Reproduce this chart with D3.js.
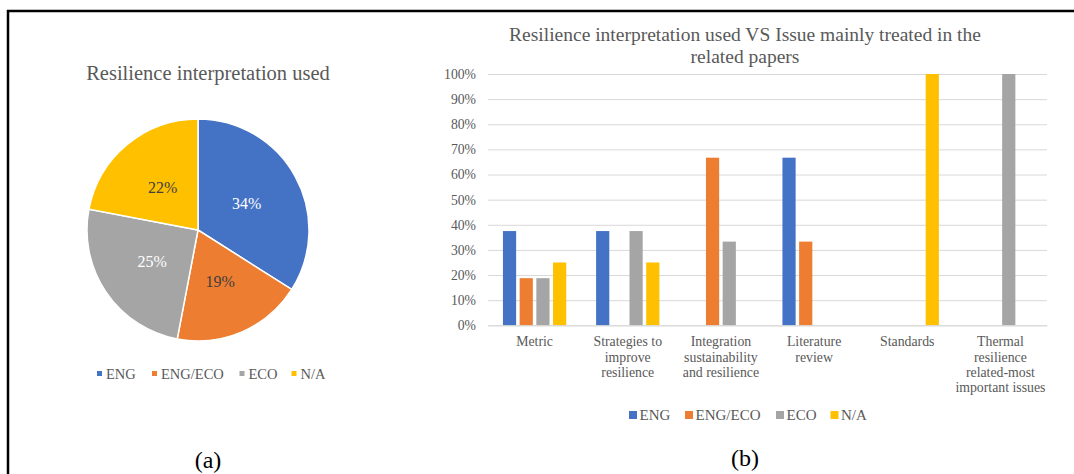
<!DOCTYPE html>
<html>
<head>
<meta charset="utf-8">
<script src="https://cdn.jsdelivr.net/npm/d3@7"></script>
<style>
  html, body { margin: 0; padding: 0; background: #fff; }
  svg { display: block; }
  svg text { font-family: "Liberation Serif", "Times New Roman", serif; }
</style>
</head>
<body>
<svg id="fig" width="1074" height="474"></svg>
<script>
// ---- data ----
const seriesNames = ["ENG", "ENG/ECO", "ECO", "N/A"];
const seriesColors = ["#4472C4", "#ED7D31", "#A5A5A5", "#FFC000"];

// (a) share of each resilience interpretation, percent
const pieValues = [34, 19, 25, 22];

// (b) issue categories (line breaks as drawn) and per-series percentages
const issueLabels = [
  ["Metric"],
  ["Strategies to", "improve", "resilience"],
  ["Integration", "sustainability", "and resilience"],
  ["Literature", "review"],
  ["Standards"],
  ["Thermal", "resilience", "related-most", "important issues"]
];
const engValues    = [37.5, 37.5, 0, 66.7, 0, 0];
const engEcoValues = [18.75, 0, 66.7, 33.3, 0, 0];
const ecoValues    = [18.75, 37.5, 33.3, 0, 0, 100];
const naValues     = [25, 25, 0, 0, 100, 0];
const yTicks = [0, 10, 20, 30, 40, 50, 60, 70, 80, 90, 100];

const textGray = "#595959";
const serif = '"Liberation Serif", "Times New Roman", serif';
const svg = d3.select("#fig");

// frame lines (top and left)
svg.append("line").attr("x1", 7).attr("x2", 1074).attr("y1", 11).attr("y2", 11)
  .attr("stroke", "#000").attr("stroke-width", 2.5);
svg.append("line").attr("x1", 8).attr("x2", 8).attr("y1", 10).attr("y2", 474)
  .attr("stroke", "#000").attr("stroke-width", 2.5);

// ---------- (a) pie ----------
const pieG = svg.append("g");
const cx = 198, cy = 230, radius = 111;

pieG.append("text").attr("x", 208).attr("y", 80).attr("text-anchor", "middle")
  .attr("font-size", 20.5).attr("fill", textGray).text("Resilience interpretation used");

const pie = d3.pie().sort(null).value(d => d);
const arcs = pie(pieValues);
const arc = d3.arc().innerRadius(0).outerRadius(radius);
const labelArc = d3.arc().innerRadius(radius * 0.5).outerRadius(radius * 0.5);

const slices = pieG.append("g").attr("transform", `translate(${cx},${cy})`);
slices.selectAll("path").data(arcs).join("path")
  .attr("d", arc)
  .attr("fill", (d, i) => seriesColors[i])
  .attr("stroke", "#fff").attr("stroke-width", 1.5);

const pieLabelColors = ["#fff", "#404040", "#fff", "#404040"];
slices.selectAll("text").data(arcs).join("text")
  .attr("transform", d => `translate(${labelArc.centroid(d)})`)
  .attr("text-anchor", "middle").attr("dy", "0.35em")
  .attr("font-size", 16)
  .attr("fill", (d, i) => pieLabelColors[i])
  .text(d => d3.format(".0f")(d.data) + "%");

// pie legend
const pieLegendX = [97, 152, 239.5, 291.5];
const pieLegend = pieG.append("g");
seriesNames.forEach((name, i) => {
  pieLegend.append("rect").attr("x", pieLegendX[i]).attr("y", 371).attr("width", 5).attr("height", 5)
    .attr("fill", seriesColors[i]);
  pieLegend.append("text").attr("x", pieLegendX[i] + 9).attr("y", 379)
    .attr("font-size", 14.5).attr("fill", textGray).text(name);
});

pieG.append("text").attr("x", 208).attr("y", 468).attr("text-anchor", "middle")
  .attr("font-size", 24).attr("fill", "#000").text("(a)");

// ---------- (b) grouped bars ----------
const barG = svg.append("g");
const plotLeft = 488, plotRight = 1047, plotTop = 74, plotBottom = 325.3;

const titleLines = ["Resilience interpretation used VS Issue mainly treated in the", "related papers"];
barG.append("text").attr("text-anchor", "middle").attr("font-size", 19.5).attr("fill", textGray)
  .selectAll("tspan").data(titleLines).join("tspan")
  .attr("x", 745).attr("y", (d, i) => 41 + i * 22).text(d => d);

const y = d3.scaleLinear().domain([0, 100]).range([plotBottom, plotTop]);
const x0 = d3.scaleBand().domain(d3.range(issueLabels.length)).range([plotLeft, plotRight]).padding(0);
const x1 = d3.scaleBand().domain(seriesNames).range([0, x0.bandwidth()])
  .paddingInner(0.21).paddingOuter(0.895);

// gridlines + y labels via axis
const yAxis = d3.axisLeft(y).tickValues(yTicks).tickSize(-(plotRight - plotLeft))
  .tickFormat(d => d + "%").tickPadding(12);
const gy = barG.append("g").attr("transform", `translate(${plotLeft},0)`).call(yAxis);
gy.attr("font-family", null);
gy.select(".domain").remove();
gy.selectAll(".tick line").attr("stroke", "#d9d9d9").attr("stroke-width", 1);
gy.selectAll(".tick text").attr("font-size", 13.7).attr("fill", textGray);

// bars
const seriesData = [engValues, engEcoValues, ecoValues, naValues];
const groups = barG.append("g").selectAll("g").data(issueLabels.map((_, i) => i)).join("g")
  .attr("transform", i => `translate(${x0(i)},0)`);
groups.selectAll("rect")
  .data(i => seriesNames.map((s, k) => ({ key: s, k, value: seriesData[k][i] })).filter(d => d.value > 0))
  .join("rect")
  .attr("x", d => x1(d.key))
  .attr("width", x1.bandwidth())
  .attr("y", d => y(d.value))
  .attr("height", d => y(0) - y(d.value))
  .attr("fill", d => seriesColors[d.k]);

// category labels
const xAxis = d3.axisBottom(x0).tickSize(0).tickFormat("");
const gx = barG.append("g").attr("transform", `translate(0,${plotBottom})`).call(xAxis);
gx.attr("font-family", null);
gx.select(".domain").attr("stroke", "#d9d9d9");
gx.selectAll(".tick").each(function (i) {
  const t = d3.select(this).append("text")
    .attr("text-anchor", "middle").attr("font-size", 13.8).attr("fill", textGray);
  issueLabels[i].forEach((line, j) => {
    t.append("tspan").attr("x", 0).attr("y", 21 + j * 15.4).text(line);
  });
});

// bar legend
const barLegendX = [629, 685, 776, 830.5];
const barLegend = barG.append("g");
seriesNames.forEach((name, i) => {
  barLegend.append("rect").attr("x", barLegendX[i]).attr("y", 411).attr("width", 8).attr("height", 8)
    .attr("fill", seriesColors[i]);
  barLegend.append("text").attr("x", barLegendX[i] + 10.5).attr("y", 420)
    .attr("font-size", 15).attr("fill", textGray).text(name);
});

barG.append("text").attr("x", 745).attr("y", 466).attr("text-anchor", "middle")
  .attr("font-size", 24).attr("fill", "#000").text("(b)");

// every label in the figure uses the serif face
svg.selectAll("text").style("font-family", serif);
</script>
</body>
</html>
